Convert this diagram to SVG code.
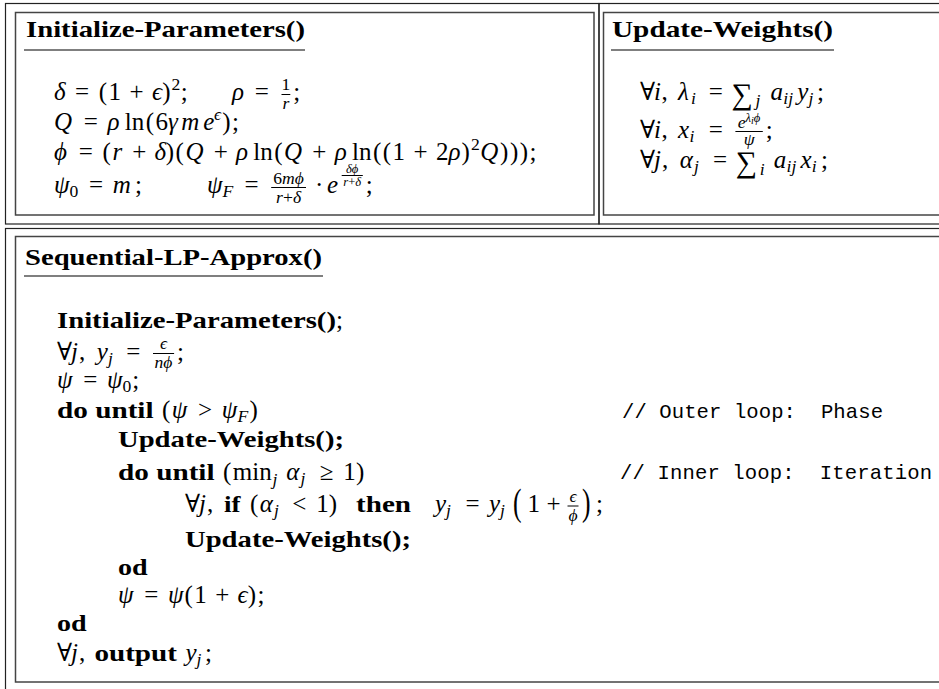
<svg xmlns="http://www.w3.org/2000/svg" width="939" height="689" viewBox="0 0 939 689">
<style>
text { font-family: "Liberation Serif", "DejaVu Serif", serif; fill: #000; }
.mi { font-style: italic; font-size: 25px; }
.mr { font-size: 25px; }
.op { font-size: 25px; text-anchor: middle; }
.sum { font-size: 30px; }
.sci { font-style: italic; font-size: 17.6px; }
.scr { font-size: 17.6px; }
.ssi { font-style: italic; font-size: 12.6px; }
.ssr { font-size: 12.6px; }
.bf { font-weight: bold; font-size: 23.5px; }
.tt { font-family: "Liberation Mono", "DejaVu Sans Mono", monospace; font-size: 20.6px; white-space: pre; }
.mid { text-anchor: middle; }
.bigp { font-size: 32px; }
.outer { fill: none; stroke: #222; stroke-width: 1.2; }
.inner { fill: none; stroke: #444; stroke-width: 1.5; }
.ul { stroke: #000; stroke-width: 1.1; }
.bar { stroke: #000; stroke-width: 1; }
</style>
<rect width="939" height="689" fill="#fff"/>

<g id="init-params">
  <rect class="outer" x="5.5" y="3.5" width="593.5" height="220.5"/>
  <rect class="inner" x="15.5" y="12.5" width="578.5" height="202.5"/>
  <text class="bf" x="26" y="37" textLength="279" lengthAdjust="spacingAndGlyphs">Initialize-Parameters()</text>
  <line class="ul" x1="24" y1="50" x2="305" y2="50"/>
  <text y="100"><tspan class="mi" x="54">δ</tspan><tspan class="op" x="82">=</tspan><tspan class="mr" x="98.8">(</tspan><tspan class="mr" x="108.6">1</tspan><tspan class="op" x="136.6">+</tspan><tspan class="mi" x="152">ϵ</tspan><tspan class="mr" x="162.2">)</tspan><tspan class="scr" x="171.5" y="90">2</tspan><tspan class="mr" x="180.8" y="100">;</tspan><tspan class="mi" x="232">ρ</tspan><tspan class="op" x="261.8">=</tspan><tspan class="mr" x="293.2">;</tspan></text>
  <text class="scr mid" x="285.9" y="90">1</text>
  <line class="bar" x1="281.5" y1="94.5" x2="290.3" y2="94.5"/>
  <text class="sci mid" x="285.9" y="108.5">r</text>
  <text y="130"><tspan class="mi" x="54">Q</tspan><tspan class="op" x="90.7">=</tspan><tspan class="mi" x="107.5">ρ</tspan><tspan class="mr" x="124.7">ln</tspan><tspan class="mr" x="145.7">(</tspan><tspan class="mr" x="155.5">6</tspan><tspan class="mi" x="168.1">γ</tspan><tspan class="mi" x="181.2">m</tspan><tspan class="mi" x="203.3">e</tspan><tspan class="sci" x="214" y="120">ϵ</tspan><tspan class="mr" x="222.2" y="130">)</tspan><tspan class="mr" x="232">;</tspan></text>
  <text y="160"><tspan class="mi" x="54">ϕ</tspan><tspan class="op" x="85.8">=</tspan><tspan class="mr" x="102.6">(</tspan><tspan class="mi" x="112.4">r</tspan><tspan class="op" x="139.2">+</tspan><tspan class="mi" x="154.6">δ</tspan><tspan class="mr" x="165.8">)</tspan><tspan class="mr" x="175.6">(</tspan><tspan class="mi" x="185.4">Q</tspan><tspan class="op" x="220.7">+</tspan><tspan class="mi" x="236.1">ρ</tspan><tspan class="mr" x="253.3">ln</tspan><tspan class="mr" x="274.3">(</tspan><tspan class="mi" x="284.1">Q</tspan><tspan class="op" x="319.4">+</tspan><tspan class="mi" x="334.8">ρ</tspan><tspan class="mr" x="352">ln</tspan><tspan class="mr" x="373">(</tspan><tspan class="mr" x="382.8">(</tspan><tspan class="mr" x="392.6">1</tspan><tspan class="op" x="420.6">+</tspan><tspan class="mr" x="436">2</tspan><tspan class="mi" x="448.6">ρ</tspan><tspan class="mr" x="461.6">)</tspan><tspan class="scr" x="471" y="150">2</tspan><tspan class="mi" x="480.2" y="160">Q</tspan><tspan class="mr" x="500.1">)</tspan><tspan class="mr" x="509.9">)</tspan><tspan class="mr" x="519.7">)</tspan><tspan class="mr" x="529.5">;</tspan></text>
  <text y="193"><tspan class="mi" x="54">ψ</tspan><tspan class="scr" x="69.5" y="197">0</tspan><tspan class="op" x="96" y="193">=</tspan><tspan class="mi" x="112.8">m</tspan><tspan class="mr" x="134.9">;</tspan><tspan class="mi" x="207">ψ</tspan><tspan class="sci" x="222.5" y="197">F</tspan><tspan class="op" x="251.5" y="193">=</tspan><tspan class="mr" x="315">·</tspan><tspan class="mi" x="327.1">e</tspan><tspan class="mr" x="365.7">;</tspan></text>
  <text class="mid" x="288.6" y="183.5"><tspan class="scr">6</tspan><tspan class="sci">mϕ</tspan></text>
  <line class="bar" x1="271.2" y1="187.5" x2="306" y2="187.5"/>
  <text class="mid" x="288.6" y="203"><tspan class="sci">r</tspan><tspan class="scr">+</tspan><tspan class="sci">δ</tspan></text>
  <text class="ssi mid" x="352.2" y="172.5">δϕ</text>
  <line class="bar" x1="341.7" y1="175.5" x2="362.8" y2="175.5"/>
  <text class="mid" x="352.2" y="186"><tspan class="ssi">r</tspan><tspan class="ssr">+</tspan><tspan class="ssi">δ</tspan></text>
</g>

<g id="update-weights">
  <rect class="outer" x="599" y="3.5" width="360" height="220.5"/>
  <rect class="inner" x="603.5" y="12.5" width="360" height="202.5"/>
  <text class="bf" x="612" y="37" textLength="221" lengthAdjust="spacingAndGlyphs">Update-Weights()</text>
  <line class="ul" x1="611" y1="50" x2="834" y2="50"/>
  <text y="100"><tspan class="mr" x="640">∀</tspan><tspan class="mi" x="654">i</tspan><tspan class="mr" x="661.5">,</tspan><tspan class="mi" x="678.1">λ</tspan><tspan class="sci" x="691" y="104">i</tspan><tspan class="op" x="715.7" y="100">=</tspan><tspan class="sum" x="731.5" y="104">∑</tspan><tspan class="sci" x="755.5" y="106">j</tspan><tspan class="mi" x="770.6" y="100">a</tspan><tspan class="sci" x="783.3" y="104">ij</tspan><tspan class="mi" x="797.3" y="100">y</tspan><tspan class="sci" x="808.4" y="104">j</tspan><tspan class="mr" x="816.9" y="100">;</tspan></text>
  <text y="138"><tspan class="mr" x="640">∀</tspan><tspan class="mi" x="654">i</tspan><tspan class="mr" x="661.5">,</tspan><tspan class="mi" x="678.1">x</tspan><tspan class="sci" x="689.5" y="142">i</tspan><tspan class="op" x="715.7" y="138">=</tspan><tspan class="mr" x="765.7">;</tspan></text>
  <text class="mid" x="749.1" y="127.5"><tspan class="sci">e</tspan><tspan class="ssi" dy="-6">λ</tspan><tspan class="ssi" dy="2" style="font-size:10px">i</tspan><tspan class="ssi" dy="-2">ϕ</tspan></text>
  <line class="bar" x1="735.4" y1="131.5" x2="762.8" y2="131.5"/>
  <text class="sci mid" x="749.1" y="145">ψ</text>
  <text y="168"><tspan class="mr" x="640">∀</tspan><tspan class="mi" x="654">j</tspan><tspan class="mr" x="662">,</tspan><tspan class="mi" x="679.8">α</tspan><tspan class="sci" x="694" y="172">j</tspan><tspan class="op" x="720" y="168">=</tspan><tspan class="sum" x="735.8" y="172">∑</tspan><tspan class="sci" x="759.8" y="175">i</tspan><tspan class="mi" x="773.7" y="168">a</tspan><tspan class="sci" x="786.5" y="172">ij</tspan><tspan class="mi" x="800.4" y="168">x</tspan><tspan class="sci" x="811.8" y="172">i</tspan><tspan class="mr" x="820.9" y="168">;</tspan></text>
</g>

<g id="sequential-lp-approx">
  <rect class="outer" x="5.5" y="228.5" width="960" height="480"/>
  <rect class="inner" x="15.5" y="236.5" width="960" height="445.5"/>
  <text class="bf" x="25" y="265" textLength="297" lengthAdjust="spacingAndGlyphs">Sequential-LP-Approx()</text>
  <line class="ul" x1="24" y1="276" x2="323" y2="276"/>
  <text class="bf" x="57" y="328" textLength="279" lengthAdjust="spacingAndGlyphs">Initialize-Parameters()</text>
  <text class="mr" x="336" y="328">;</text>
  <text y="360"><tspan class="mr" x="57">∀</tspan><tspan class="mi" x="71">j</tspan><tspan class="mr" x="79">,</tspan><tspan class="mi" x="96.8">y</tspan><tspan class="sci" x="107.9" y="364">j</tspan><tspan class="op" x="133.3" y="360">=</tspan><tspan class="mr" x="177">;</tspan></text>
  <text class="sci mid" x="163.5" y="349">ϵ</text>
  <line class="bar" x1="153" y1="353.5" x2="174.1" y2="353.5"/>
  <text class="sci mid" x="163.5" y="368">nϕ</text>
  <text y="388"><tspan class="mi" x="57">ψ</tspan><tspan class="op" x="90.2">=</tspan><tspan class="mi" x="107">ψ</tspan><tspan class="scr" x="122.5" y="392">0</tspan><tspan class="mr" x="132.2" y="388">;</tspan></text>
  <text y="418"><tspan class="bf" x="57" textLength="96.6" lengthAdjust="spacingAndGlyphs">do until</tspan><tspan class="mr" x="162">(</tspan><tspan class="mi" x="171.8">ψ</tspan><tspan class="op" x="205">&gt;</tspan><tspan class="mi" x="221.8">ψ</tspan><tspan class="sci" x="237.5" y="422">F</tspan><tspan class="mr" x="249.5" y="418">)</tspan></text>
  <text class="tt" x="622" y="418" textLength="261" xml:space="preserve">// Outer loop:  Phase</text>
  <text class="bf" x="118" y="447" textLength="226" lengthAdjust="spacingAndGlyphs">Update-Weights();</text>
  <text y="480"><tspan class="bf" x="118" textLength="96.6" lengthAdjust="spacingAndGlyphs">do until</tspan><tspan class="mr" x="223">(</tspan><tspan class="mr" x="232.8">min</tspan><tspan class="sci" x="272.5" y="485">j</tspan><tspan class="mi" x="286.3" y="480">α</tspan><tspan class="sci" x="300.5" y="484">j</tspan><tspan class="op" x="326.5" y="480">≥</tspan><tspan class="mr" x="343.3">1</tspan><tspan class="mr" x="355.9">)</tspan></text>
  <text class="tt" x="620" y="479" textLength="312" xml:space="preserve">// Inner loop:  Iteration</text>
  <text y="512"><tspan class="mr" x="185">∀</tspan><tspan class="mi" x="199">j</tspan><tspan class="mr" x="207">,</tspan><tspan class="bf" x="224" textLength="16.5" lengthAdjust="spacingAndGlyphs">if</tspan><tspan class="mr" x="250">(</tspan><tspan class="mi" x="259.8">α</tspan><tspan class="sci" x="274" y="516">j</tspan><tspan class="op" x="299.4" y="512">&lt;</tspan><tspan class="mr" x="316.2">1</tspan><tspan class="mr" x="328.8">)</tspan><tspan class="bf" x="356" textLength="55" lengthAdjust="spacingAndGlyphs">then</tspan><tspan class="mi" x="435">y</tspan><tspan class="sci" x="446.1" y="516">j</tspan><tspan class="op" x="472.5" y="512">=</tspan><tspan class="mi" x="489">y</tspan><tspan class="sci" x="500.1" y="516">j</tspan><tspan class="mr" x="527.5" y="512">1</tspan><tspan class="op" x="553.5">+</tspan><tspan class="mr" x="596">;</tspan></text>
  <text class="bigp" transform="translate(513,515) scale(0.8,1.2)">(</text>
  <text class="bigp" transform="translate(582,515) scale(0.8,1.2)">)</text>
  <text class="sci mid" x="573" y="501.5">ϵ</text>
  <line class="bar" x1="567.5" y1="506" x2="578.5" y2="506"/>
  <text class="sci mid" x="573" y="521">ϕ</text>
  <text class="bf" x="185" y="547" textLength="226" lengthAdjust="spacingAndGlyphs">Update-Weights();</text>
  <text class="bf" x="118" y="575" textLength="29.6" lengthAdjust="spacingAndGlyphs">od</text>
  <text y="603"><tspan class="mi" x="118">ψ</tspan><tspan class="op" x="151.2">=</tspan><tspan class="mi" x="168">ψ</tspan><tspan class="mr" x="184.4">(</tspan><tspan class="mr" x="194.2">1</tspan><tspan class="op" x="222.2">+</tspan><tspan class="mi" x="237.6">ϵ</tspan><tspan class="mr" x="247.8">)</tspan><tspan class="mr" x="257.6">;</tspan></text>
  <text class="bf" x="57" y="631" textLength="29.6" lengthAdjust="spacingAndGlyphs">od</text>
  <text y="661"><tspan class="mr" x="57">∀</tspan><tspan class="mi" x="71">j</tspan><tspan class="mr" x="79">,</tspan><tspan class="bf" x="94.4" textLength="82.6" lengthAdjust="spacingAndGlyphs">output</tspan><tspan class="mi" x="185.4">y</tspan><tspan class="sci" x="196.5" y="665">j</tspan><tspan class="mr" x="205" y="661">;</tspan></text>
</g>

<g id="connectors"></g>
</svg>
